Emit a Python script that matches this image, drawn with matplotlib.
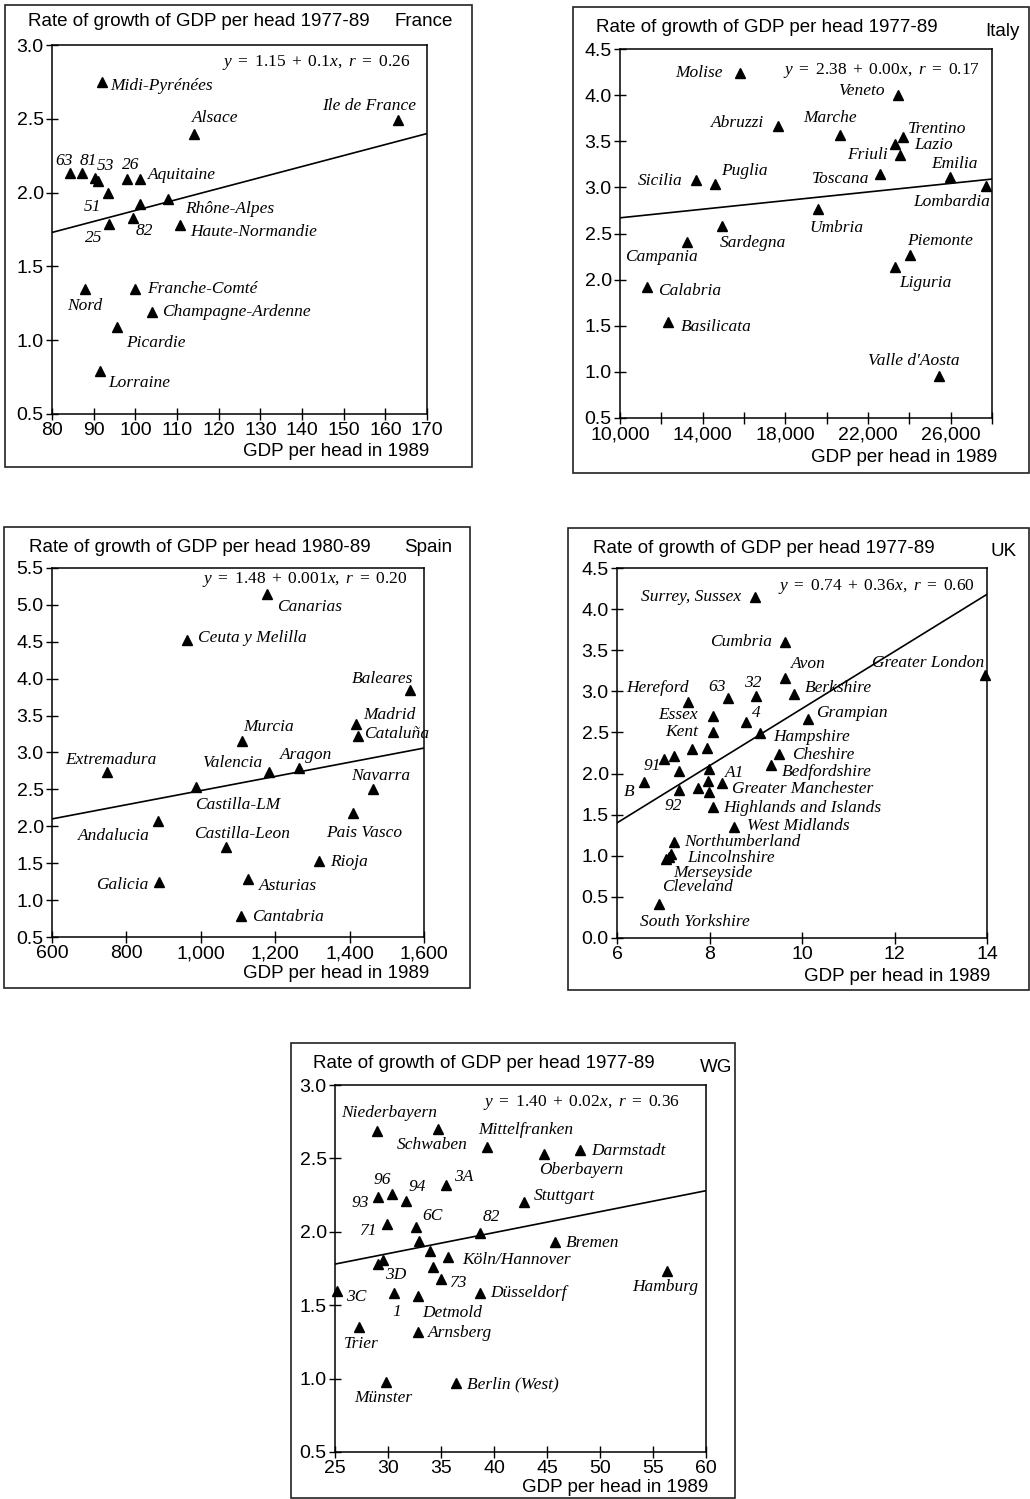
import numpy as np
import matplotlib
matplotlib.use('Agg')
import matplotlib.pyplot as plt
from matplotlib.patches import Rectangle
from matplotlib.ticker import FuncFormatter, FormatStrFormatter

plt.rcParams['font.family'] = ['Liberation Sans', 'DejaVu Sans']
plt.rcParams['mathtext.fontset'] = 'custom'
plt.rcParams['mathtext.rm'] = 'Liberation Serif'
plt.rcParams['mathtext.it'] = 'Liberation Serif:italic'

# ---------------- France ----------------
fr_names = ['Midi-Pyrénées', 'Alsace', 'Ile de France', '63', '81', '53', '', '26', 'Aquitaine',
            '51', '25', '82', '', 'Rhône-Alpes', 'Haute-Normandie', 'Nord', 'Franche-Comté',
            'Champagne-Ardenne', 'Picardie', 'Lorraine']
fr_x = [92, 114, 163, 84.3, 87.2, 90.3, 91.0, 98, 101.1, 93.4, 93.7, 99.4, 101.1, 107.9, 110.7,
        87.9, 100, 104, 95.6, 91.5]
fr_y = [2.75, 2.40, 2.49, 2.13, 2.13, 2.10, 2.08, 2.09, 2.09, 2.00, 1.79, 1.83, 1.92, 1.96, 1.78,
        1.35, 1.35, 1.19, 1.09, 0.79]
fr_line_x = [80, 170]
fr_line_y = [1.73, 2.40]

# ---------------- Italy ----------------
it_names = ['Molise', 'Veneto', 'Abruzzi', 'Marche', 'Trentino', 'Lazio', 'Friuli', 'Emilia',
            'Lombardia', 'Toscana', 'Sicilia', 'Puglia', 'Umbria', 'Sardegna', 'Campania',
            'Piemonte', 'Liguria', 'Calabria', 'Basilicata', "Valle d'Aosta"]
it_x = [15800, 23460, 17660, 20630, 23710, 23320, 23560, 25950, 27710, 22590, 13660, 14590,
        19560, 14930, 13220, 24050, 23320, 11320, 12340, 25420]
it_y = [4.24, 4.00, 3.67, 3.57, 3.55, 3.47, 3.35, 3.11, 3.02, 3.15, 3.08, 3.04, 2.77, 2.58,
        2.41, 2.27, 2.14, 1.92, 1.54, 0.96]
it_line_x = [10000, 28000]
it_line_y = [2.67, 3.09]

# ---------------- Spain ----------------
es_names = ['Canarias', 'Ceuta y Melilla', 'Baleares', 'Madrid', 'Cataluña', 'Murcia',
            'Extremadura', 'Valencia', 'Aragon', 'Castilla-LM', 'Navarra', 'Pais Vasco',
            'Andalucia', 'Castilla-Leon', 'Rioja', 'Galicia', 'Asturias', 'Cantabria']
es_x = [1177, 964, 1562, 1417, 1422, 1112, 748, 1182, 1263, 988, 1463, 1409, 886, 1069, 1317,
        888, 1128, 1107]
es_y = [5.15, 4.52, 3.85, 3.39, 3.22, 3.16, 2.74, 2.74, 2.79, 2.53, 2.51, 2.18, 2.07, 1.72,
        1.53, 1.25, 1.29, 0.78]
es_line_x = [600, 1600]
es_line_y = [2.10, 3.06]

# ---------------- UK ----------------
uk_names = ['Surrey, Sussex', 'Cumbria', 'Avon', 'Greater London', 'Hereford', '63', '32',
            'Berkshire', 'Essex', '4', 'Grampian', 'Kent', 'Hampshire', '', '', '', '91',
            'Cheshire', 'Bedfordshire', '', '', 'A1', '', 'B', '92', '', 'Greater Manchester',
            'Highlands and Islands', 'West Midlands', 'Northumberland', 'Lincolnshire',
            'Merseyside', 'Cleveland', 'South Yorkshire']
uk_x = [8.98, 9.63, 9.63, 13.96, 7.54, 8.40, 9.00, 9.83, 8.08, 8.79, 10.13, 8.08, 9.09, 7.62,
        7.95, 7.23, 7.02, 9.50, 9.33, 7.34, 7.99, 8.27, 7.97, 6.58, 7.34, 7.75, 7.99, 8.08,
        8.53, 7.23, 7.17, 7.06, 7.12, 6.91]
uk_y = [4.15, 3.60, 3.16, 3.20, 2.87, 2.92, 2.94, 2.97, 2.70, 2.63, 2.66, 2.50, 2.49, 2.30,
        2.31, 2.21, 2.18, 2.24, 2.10, 2.03, 2.05, 1.88, 1.91, 1.90, 1.80, 1.82, 1.77, 1.59,
        1.35, 1.17, 1.02, 0.96, 0.98, 0.41]
uk_line_x = [6, 14]
uk_line_y = [1.40, 4.18]

# ---------------- West Germany ----------------
wg_names = ['Niederbayern', 'Schwaben', 'Mittelfranken', 'Oberbayern', 'Darmstadt', '3A', '96',
            '93', '94', 'Stuttgart', '71', '6C', '82', 'Bremen', '', '', 'Köln/Hannover', '',
            '3D', '', '73', '3C', '1', 'Detmold', 'Düsseldorf', 'Hamburg', 'Trier', 'Arnsberg',
            'Münster', 'Berlin (West)']
wg_x = [28.96, 34.7, 39.3, 44.7, 48.1, 35.5, 30.4, 29.1, 31.7, 42.8, 29.9, 32.6, 38.7, 45.8,
        32.9, 34.0, 35.7, 29.5, 29.1, 34.2, 35.0, 25.2, 30.6, 32.8, 38.7, 56.3, 27.3, 32.8,
        29.8, 36.4]
wg_y = [2.69, 2.70, 2.58, 2.53, 2.56, 2.32, 2.26, 2.24, 2.21, 2.20, 2.05, 2.03, 1.99, 1.93,
        1.94, 1.87, 1.83, 1.81, 1.78, 1.76, 1.68, 1.60, 1.58, 1.56, 1.58, 1.73, 1.35, 1.32,
        0.98, 0.97]
wg_line_x = [25, 60]
wg_line_y = [1.78, 2.28]

# label placement (pixel offsets from marker, alignment)
fr_lab = [(8, -4, 'left'), (-2, 16, 'left'), (18, 14, 'right'), (-15, 12, 'left'),
          (-2, 12, 'left'), (2, 12, 'left'), None, (-5, 14, 'left'), (8, 4, 'left'),
          (-24, -14, 'left'), (-24, -14, 'left'), (3, -13, 'left'), None, (17, -10, 'left'),
          (10, -7, 'left'), (0, -17, 'center'), (12, 0, 'left'), (10, 0, 'left'),
          (9, -16, 'left'), (8, -12, 'left')]
it_lab = [(-17, 0, 'right'), (-13, 4, 'right'), (-14, 3, 'right'), (-10, 17, 'center'),
          (5, 8, 'left'), (19, -1, 'left'), (-12, 0, 'right'), (5, 13, 'center'),
          (4, -16, 'right'), (-11, -5, 'right'), (-13, -1, 'right'), (6, 13, 'left'),
          (-8, -19, 'left'), (-2, -17, 'left'), (-25, -15, 'center'), (-3, 14, 'left'),
          (4, -16, 'left'), (11, -4, 'left'), (12, -5, 'left'), (21, 15, 'right')]
es_lab = [(10, -13, 'left'), (11, 2, 'left'), (3, 11, 'right'), (7, 9, 'left'), (6, 2, 'left'),
          (1, 14, 'left'), (4, 12, 'center'), (-6, 9, 'right'), (8, 13, 'center'),
          (-1, -18, 'left'), (8, 13, 'center'), (11, -20, 'center'), (-9, -15, 'right'),
          (16, 13, 'center'), (11, -1, 'left'), (-11, -3, 'right'), (11, -7, 'left'),
          (11, -1, 'left')]
uk_lab = [(-14, 0, 'right'), (-13, 0, 'right'), (6, 14, 'left'), (-1, 12, 'right'),
          (1, 14, 'right'), (-2, 11, 'right'), (-3, 13, 'center'), (11, 6, 'left'),
          (-15, 1, 'right'), (6, 9, 'left'), (8, 6, 'left'), (-15, 0, 'right'), (13, -4, 'left'),
          None, None, None, (-3, -7, 'right'), (13, -1, 'left'), (11, -7, 'left'), None, None,
          (3, 10, 'left'), None, (-9, -10, 'right'), (-6, -16, 'center'), None, (23, 3, 'left'),
          (10, -1, 'left'), (13, 1, 'left'), (10, 0, 'left'), (16, -4, 'left'), (7, -14, 'left'),
          (-7, -30, 'left'), (-19, -18, 'left')]
wg_lab = [(-36, 18, 'left'), (-6, -16, 'center'), (-8, 17, 'left'), (-5, -16, 'left'),
          (11, -1, 'left'), (8, 8, 'left'), (-10, 14, 'center'), (-9, -6, 'right'),
          (2, 14, 'left'), (10, 6, 'left'), (-9, -7, 'right'), (7, 11, 'left'), (2, 16, 'left'),
          (10, -1, 'left'), None, None, (14, -3, 'left'), None, (7, -11, 'left'), None,
          (9, -4, 'left'), (9, -6, 'left'), (2, -19, 'center'), (5, -17, 'left'),
          (10, 0, 'left'), (-2, -16, 'center'), (2, -17, 'center'), (10, -1, 'left'),
          (-3, -16, 'center'), (11, -1, 'left')]

W, H = 1030, 1499
fig = plt.figure(figsize=(W / 100, H / 100), dpi=100)


def fx(px):
    return px / W


def fy(py):
    return 1 - py / H


def comma(v, pos):
    return f'{v:,.0f}'


def panel(box, frame, title_xy, title, country_xy, country, xlab_xy,
          names, xs, ys, labs, line_x, line_y, eq, eq_off,
          xlim, ylim, xticks, yticks, xfmt):
    l, t, r, b = box
    ax = fig.add_axes([fx(l), fy(b), (r - l) / W, (b - t) / H])
    ax.plot(line_x, line_y, color='black', lw=1.2)
    ax.plot(xs, ys, '^', color='black', ms=7, clip_on=False)
    for name, x, y, lab in zip(names, xs, ys, labs):
        if lab is None or name == '':
            continue
        dx, dy, ha = lab
        ax.annotate(name, (x, y), xytext=(dx, dy), textcoords='offset pixels',
                    ha=ha, va='center', fontsize=12.5, family='Liberation Serif',
                    style='italic', annotation_clip=False)
    ax.annotate(eq, (1, 1), xycoords='axes fraction', xytext=eq_off,
                textcoords='offset pixels', ha='right', va='center', fontsize=12.5)
    ax.set_xlim(xlim)
    ax.set_ylim(ylim)
    ax.set_xticks(xticks)
    ax.set_yticks(yticks)
    ax.xaxis.set_major_formatter(xfmt)
    ax.yaxis.set_major_formatter(FormatStrFormatter('%.1f'))
    ax.tick_params(direction='inout', length=8, width=1, labelsize=14, pad=2,
                   top=False, right=False)
    for s in ax.spines.values():
        s.set_linewidth(1.1)
    fl, ft, fr_, fb = frame
    fig.patches.append(Rectangle((fx(fl), fy(fb)), (fr_ - fl) / W, (fb - ft) / H,
                                 transform=fig.transFigure, fill=False,
                                 edgecolor='#222222', lw=1.2))
    fig.text(fx(title_xy[0]), fy(title_xy[1]), title, ha='left', va='center', fontsize=13.5)
    fig.text(fx(country_xy[0]), fy(country_xy[1]), country, ha='right', va='center', fontsize=13.5)
    fig.text(fx(xlab_xy[0]), fy(xlab_xy[1]), 'GDP per head in 1989', ha='right',
             va='center', fontsize=13.5)
    return ax


panel((52, 45, 427, 414), (5, 5, 472, 467), (28, 22), 'Rate of growth of GDP per head 1977-89',
      (453, 22), 'France', (429, 451),
      fr_names, fr_x, fr_y, fr_lab, fr_line_x, fr_line_y,
      r'$y\ =\ 1.15\ +\ 0.1x,\ r\ =\ 0.26$', (-17, -17),
      (80, 170), (0.5, 3.0), np.arange(80, 171, 10), np.arange(0.5, 3.01, 0.5),
      FormatStrFormatter('%d'))

panel((620, 49, 992, 418), (573, 7, 1029, 473), (596, 27), 'Rate of growth of GDP per head 1977-89',
      (1020, 32), 'Italy', (997, 457),
      it_names, it_x, it_y, it_lab, it_line_x, it_line_y,
      r'$y\ =\ 2.38\ +\ 0.00x,\ r\ =\ 0.17$', (-12, -21),
      (10000, 28000), (0.5, 4.5), np.arange(10000, 28001, 2000), np.arange(0.5, 4.51, 0.5),
      FuncFormatter(lambda v, p: f'{v:,.0f}' if (v - 10000) % 4000 == 0 and v < 27000 else ''))

panel((52, 568, 424, 937), (4, 527, 470, 988), (29, 547), 'Rate of growth of GDP per head 1980-89',
      (452, 547), 'Spain', (429, 973),
      es_names, es_x, es_y, es_lab, es_line_x, es_line_y,
      r'$y\ =\ 1.48\ +\ 0.001x,\ r\ =\ 0.20$', (-17, -12),
      (600, 1600), (0.5, 5.5), np.arange(600, 1601, 200), np.arange(0.5, 5.51, 0.5),
      FuncFormatter(comma))

panel((617, 568, 987, 938), (568, 528, 1029, 990), (593, 548), 'Rate of growth of GDP per head 1977-89',
      (1017, 551), 'UK', (990, 976),
      uk_names, uk_x, uk_y, uk_lab, uk_line_x, uk_line_y,
      r'$y\ =\ 0.74\ +\ 0.36x,\ r\ =\ 0.60$', (-12, -18),
      (6, 14), (0.0, 4.5), np.arange(6, 15, 2), np.arange(0.0, 4.51, 0.5),
      FormatStrFormatter('%d'))

panel((335, 1085, 706, 1452), (291, 1043, 735, 1498), (313, 1063), 'Rate of growth of GDP per head 1977-89',
      (732, 1067), 'WG', (708, 1488),
      wg_names, wg_x, wg_y, wg_lab, wg_line_x, wg_line_y,
      r'$y\ =\ 1.40\ +\ 0.02x,\ r\ =\ 0.36$', (-26, -17),
      (25, 60), (0.5, 3.0), np.arange(25, 61, 5), np.arange(0.5, 3.01, 0.5),
      FormatStrFormatter('%d'))

fig.savefig('out.png', dpi=100)
